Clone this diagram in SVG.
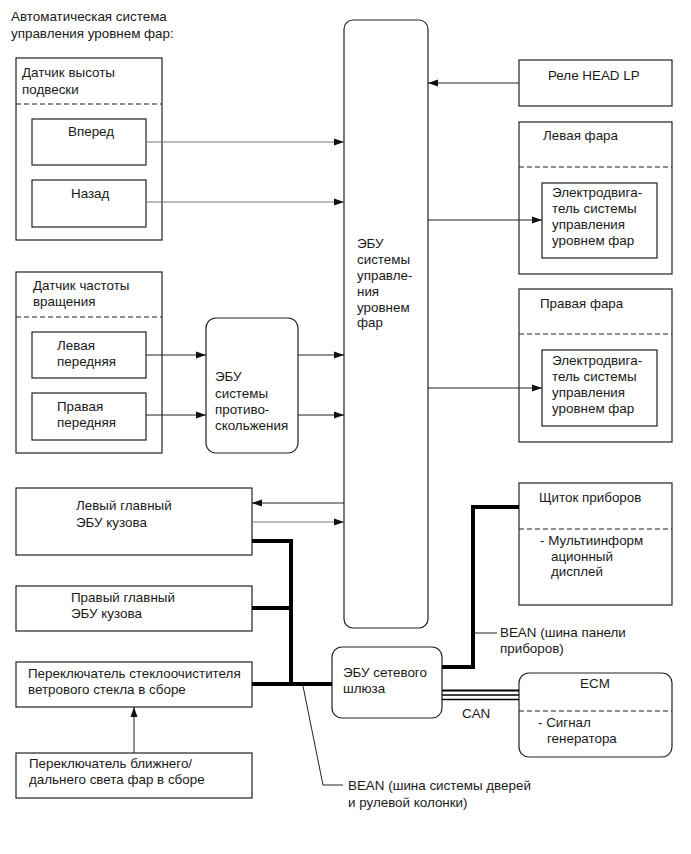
<svg xmlns="http://www.w3.org/2000/svg" width="691" height="854" viewBox="0 0 691 854">
<defs>
<style>
text{font-family:"Liberation Sans",Arial,sans-serif;font-size:13.4px;fill:#1a1a1a}
.b{fill:#fff;stroke:#222;stroke-width:1.2}
.d{stroke:#222;stroke-width:1.1;stroke-dasharray:5,3;fill:none}
.c{stroke:#222;stroke-width:1;fill:none}
.g{stroke:#777;stroke-width:1;fill:none}
.t{stroke:#000;stroke-width:4;fill:none}
</style>
<marker id="a" viewBox="0 0 10 10" refX="10" refY="5" markerWidth="10" markerHeight="10" markerUnits="userSpaceOnUse" orient="auto"><path d="M0,1.5L10,5L0,8.5z" fill="#111"/></marker>
</defs>
<rect width="691" height="854" fill="#fff"/>
<text x="11" y="21">Автоматическая система</text>
<text x="11" y="38">управления уровнем фар:</text>

<g id="height-sensor">
<rect class="b" x="16" y="58" width="146" height="182"/>
<line class="d" x1="16" y1="104" x2="162" y2="104"/>
<text x="22" y="77">Датчик высоты</text>
<text x="22" y="94">подвески</text>
</g>
<g id="front">
<rect class="b" x="32" y="119" width="114" height="46"/>
<text x="68" y="136">Вперед</text>
</g>
<g id="rear">
<rect class="b" x="32" y="180" width="114" height="47"/>
<text x="71" y="198">Назад</text>
</g>

<g id="speed-sensor">
<rect class="b" x="16" y="272" width="146" height="181"/>
<line class="d" x1="16" y1="317" x2="162" y2="317"/>
<text x="33" y="290">Датчик частоты</text>
<text x="33" y="306">вращения</text>
</g>
<g id="left-front">
<rect class="b" x="32" y="332" width="114" height="46"/>
<text x="57" y="350">Левая</text>
<text x="57" y="366">передняя</text>
</g>
<g id="right-front">
<rect class="b" x="32" y="393" width="114" height="47"/>
<text x="57" y="411">Правая</text>
<text x="57" y="427">передняя</text>
</g>

<g id="abs-ecu">
<rect class="b" x="206" y="318" width="92" height="135" rx="10"/>
<text x="215" y="381">ЭБУ</text>
<text x="215" y="398">системы</text>
<text x="215" y="414">противо-</text>
<text x="215" y="430">скольжения</text>
</g>

<g id="main-ecu">
<rect class="b" x="344" y="20" width="84" height="608" rx="9"/>
<text x="357" y="248">ЭБУ</text>
<text x="357" y="264">системы</text>
<text x="357" y="280">управле-</text>
<text x="357" y="296">ния</text>
<text x="357" y="312">уровнем</text>
<text x="357" y="327">фар</text>
</g>

<g id="relay">
<rect class="b" x="519" y="60" width="153" height="46"/>
<text x="548" y="80">Реле HEAD LP</text>
</g>

<g id="left-headlamp">
<rect class="b" x="519" y="122" width="153" height="152"/>
<line class="d" x1="519" y1="167" x2="672" y2="167"/>
<text x="543" y="140">Левая фара</text>
<rect class="b" x="542" y="183" width="115" height="75"/>
<text x="552" y="197">Электродвига-</text>
<text x="552" y="213">тель системы</text>
<text x="552" y="229">управления</text>
<text x="552" y="245">уровнем фар</text>
</g>

<g id="right-headlamp">
<rect class="b" x="519" y="289" width="153" height="153"/>
<line class="d" x1="519" y1="334" x2="672" y2="334"/>
<text x="540" y="308">Правая фара</text>
<rect class="b" x="542" y="350" width="115" height="76"/>
<text x="552" y="365">Электродвига-</text>
<text x="552" y="381">тель системы</text>
<text x="552" y="397">управления</text>
<text x="552" y="413">уровнем фар</text>
</g>

<g id="left-body-ecu">
<rect class="b" x="16" y="488" width="236" height="67"/>
<text x="76" y="510">Левый главный</text>
<text x="76" y="527">ЭБУ кузова</text>
</g>
<g id="right-body-ecu">
<rect class="b" x="16" y="586" width="236" height="45"/>
<text x="71" y="602">Правый главный</text>
<text x="71" y="618">ЭБУ кузова</text>
</g>
<g id="wiper-switch">
<rect class="b" x="16" y="662" width="236" height="45"/>
<text x="28" y="678">Переключатель стеклоочистителя</text>
<text x="28" y="694">ветрового стекла в сборе</text>
</g>
<g id="headlight-switch">
<rect class="b" x="16" y="753" width="236" height="45"/>
<text x="29" y="768">Переключатель ближнего/</text>
<text x="29" y="784">дальнего света фар в сборе</text>
</g>

<g id="gateway-ecu">
<rect class="b" x="332" y="647" width="110" height="71" rx="10"/>
<text x="343" y="677">ЭБУ сетевого</text>
<text x="343" y="693">шлюза</text>
</g>

<g id="cluster">
<rect class="b" x="519" y="483" width="153" height="122"/>
<line class="d" x1="519" y1="529" x2="672" y2="529"/>
<text x="539" y="502">Щиток приборов</text>
<text x="540" y="545">- Мультиинформ</text>
<text x="551" y="561">ационный</text>
<text x="551" y="576">дисплей</text>
</g>

<g id="ecm">
<rect class="b" x="519" y="673" width="153" height="84" rx="10"/>
<line class="d" x1="519" y1="711" x2="672" y2="711"/>
<text x="595" y="688" text-anchor="middle">ECM</text>
<text x="538" y="727">- Сигнал</text>
<text x="547" y="743">генератора</text>
</g>

<g id="connectors">
<line class="g" x1="146" y1="142" x2="344" y2="142" marker-end="url(#a)"/>
<line class="g" x1="146" y1="202" x2="344" y2="202" marker-end="url(#a)"/>
<line class="c" x1="146" y1="355" x2="206" y2="355" marker-end="url(#a)"/>
<line class="c" x1="146" y1="415" x2="206" y2="415" marker-end="url(#a)"/>
<line class="c" x1="298" y1="355" x2="344" y2="355" marker-end="url(#a)"/>
<line class="c" x1="298" y1="415" x2="344" y2="415" marker-end="url(#a)"/>
<line class="c" x1="519" y1="83" x2="428" y2="83" marker-end="url(#a)"/>
<line class="c" x1="428" y1="220" x2="542" y2="220" marker-end="url(#a)"/>
<line class="c" x1="428" y1="388" x2="542" y2="388" marker-end="url(#a)"/>
<line class="c" x1="344" y1="503" x2="252" y2="503" marker-end="url(#a)"/>
<line class="g" x1="252" y1="522" x2="344" y2="522" marker-end="url(#a)"/>
<line class="c" x1="134" y1="753" x2="134" y2="707" marker-end="url(#a)"/>
<polyline class="t" points="252,541 291,541 291,685"/>
<line class="t" x1="252" y1="608" x2="291" y2="608"/>
<line class="t" x1="252" y1="684" x2="332" y2="684"/>
<polyline class="t" points="442,667 473,667 473,507 519,507"/>
<line stroke="#000" stroke-width="2" x1="442" y1="690.5" x2="519" y2="690.5"/>
<line stroke="#000" stroke-width="1.4" x1="442" y1="695" x2="519" y2="695"/>
<line stroke="#000" stroke-width="1.4" x1="442" y1="699.5" x2="519" y2="699.5"/>
<polyline class="c" points="303,686 323,785 343,785"/>
<line class="c" x1="473" y1="633" x2="497" y2="633"/>
</g>

<text x="500" y="637">BEAN (шина панели</text>
<text x="500" y="653">приборов)</text>
<text x="462" y="718">CAN</text>
<text x="348" y="790">BEAN (шина системы дверей</text>
<text x="348" y="807">и рулевой колонки)</text>
</svg>
